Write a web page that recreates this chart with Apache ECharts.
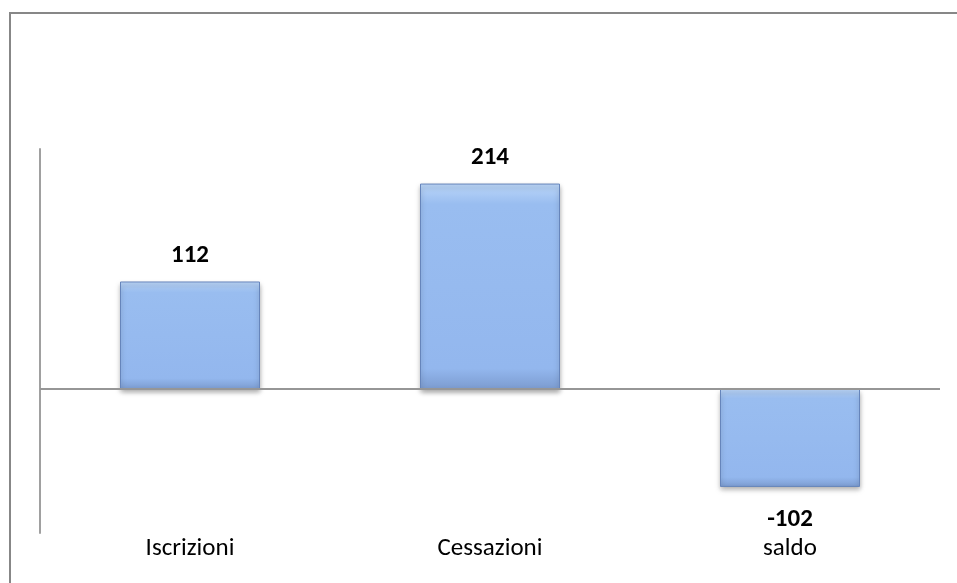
<!DOCTYPE html>
<html>
<head>
<meta charset="utf-8">
<script src="https://cdn.jsdelivr.net/npm/echarts@6/dist/echarts.min.js"></script>
<style>
  html, body { margin: 0; padding: 0; background: #fff; }
  #chart { width: 957px; height: 583px; }
</style>
</head>
<body>
<div id="chart"></div>
<script>
// dati
const categories = ['Iscrizioni', 'Cessazioni', 'saldo'];
const values = [112, 214, -102];

const chart = echarts.init(document.getElementById('chart'));
const font = 'Carlito, Lato, "Open Sans", sans-serif';

const option = {
    animation: false,
    graphic: [{
        type: 'rect',
        shape: { x: 10, y: 13, width: 1200, height: 1200 },
        style: { fill: 'none', stroke: '#878787', lineWidth: 2 }
    }],
    grid: { left: 40, right: 17, top: 149, bottom: 50 },
    xAxis: {
        type: 'category',
        data: categories,
        axisLine: { show: false, onZero: false },
        axisTick: { show: false },
        axisLabel: { color: '#000', fontSize: 25, fontFamily: font, margin: 3 }
    },
    yAxis: {
        type: 'value',
        min: -150,
        max: 250,
        axisLine: { show: true, lineStyle: { color: '#a0a0a0', width: 2 } },
        axisTick: { show: false },
        axisLabel: { show: false },
        splitLine: { show: false }
    },
    series: [{
        type: 'bar',
        barWidth: 140,
        data: values.map(v => ({
            value: v,
            label: { position: v < 0 ? 'bottom' : 'top', distance: v < 0 ? 20 : 13 }
        })),
        itemStyle: {
            color: new echarts.graphic.LinearGradient(0, 0, 0, 1, [
                { offset: 0, color: '#bcd7f9' },
                { offset: 0.1, color: '#99bdf0' },
                { offset: 0.9, color: '#93b7ee' },
                { offset: 1, color: '#7c9cd0' }
            ]),
            borderColor: '#6685bb',
            borderWidth: 1,
            shadowColor: 'rgba(0,0,0,0.35)',
            shadowBlur: 5,
            shadowOffsetY: 3
        },
        label: {
            show: true,
            color: '#000',
            fontWeight: 'bold',
            fontSize: 25,
            fontFamily: font
        },
        markLine: {
            silent: true,
            symbol: 'none',
            label: { show: false },
            lineStyle: { color: '#969696', width: 2, type: 'solid' },
            data: [{ yAxis: 0 }]
        }
    }]
};

option && chart.setOption(option);
</script>
</body>
</html>
